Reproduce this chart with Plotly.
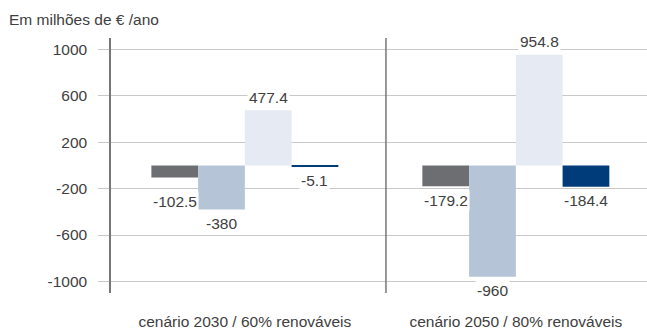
import plotly.graph_objects as go

categories = ["cenário 2030 / 60% renováveis", "cenário 2050 / 80% renováveis"]
series_names = ["s1", "s2", "s3", "s4"]
series_values = [
    [-102.5, -179.2],
    [-380, -960],
    [477.4, 954.8],
    [-5.1, -184.4],
]
value_labels = [
    ["-102.5", "-179.2"],
    ["-380", "-960"],
    ["477.4", "954.8"],
    ["-5.1", "-184.4"],
]
series_colors = ["#6d6e71", "#b5c5d7", "#e6eaf2", "#003b7a"]
y_ticks = [1000, 600, 200, -200, -600, -1000]

TXT = "#404040"
FONT = "Liberation Sans, Arial, Helvetica, sans-serif"
FS = 15.5
BARGAP = 0.31

fig = go.Figure()
for name, vals, col in zip(series_names, series_values, series_colors):
    fig.add_trace(go.Bar(x=categories, y=vals, name=name, marker=dict(color=col, line=dict(width=0)),
                         hoverinfo="skip"))

n = len(series_values)
bw = (1 - BARGAP) / n
annotations = []
for si, (vals, labs) in enumerate(zip(series_values, value_labels)):
    off = -(1 - BARGAP) / 2 + bw * (si + 0.5)
    for ci, (v, lab) in enumerate(zip(vals, labs)):
        ysh = 13 if v > 0 else -14
        if si == 0 and ci == 0:
            ysh = -24
        annotations.append(dict(x=ci + off, y=v, xref="x", yref="y", text=lab, showarrow=False,
                                yshift=ysh, bgcolor="white", borderpad=1,
                                font=dict(family=FONT, size=FS, color=TXT)))

annotations.append(dict(x=0, y=1, xref="paper", yref="paper", xanchor="left", yanchor="middle",
                        xshift=-104, yshift=19, text="Em milhões de € /ano", showarrow=False,
                        font=dict(family=FONT, size=FS, color=TXT)))

fig.update_layout(
    width=647, height=330,
    margin=dict(l=111, r=0, t=38, b=35),
    paper_bgcolor="white", plot_bgcolor="white",
    barmode="group", bargap=BARGAP, bargroupgap=0,
    showlegend=False,
    annotations=annotations,
    shapes=[dict(type="line", xref="paper", yref="paper", x0=0.513, x1=0.513, y0=0, y1=1,
                 line=dict(color="#777777", width=1.5))],
    font=dict(family=FONT, size=FS, color=TXT),
)
fig.update_yaxes(range=[-1100, 1100], tickvals=y_ticks, ticktext=[str(t) for t in y_ticks],
                 showgrid=True, gridcolor="#c8c8c8", gridwidth=1, zeroline=False,
                 showline=True, linecolor="#777777", linewidth=1.5,
                 ticks="outside", ticklen=11, tickcolor="#c8c8c8", ticklabelstandoff=8,
                 tickfont=dict(family=FONT, size=FS, color=TXT))
fig.update_xaxes(showline=False, showgrid=False, ticks="", ticklabelstandoff=17,
                 tickfont=dict(family=FONT, size=FS, color=TXT), range=[-0.494, 1.484])

fig.write_html("out.html")
